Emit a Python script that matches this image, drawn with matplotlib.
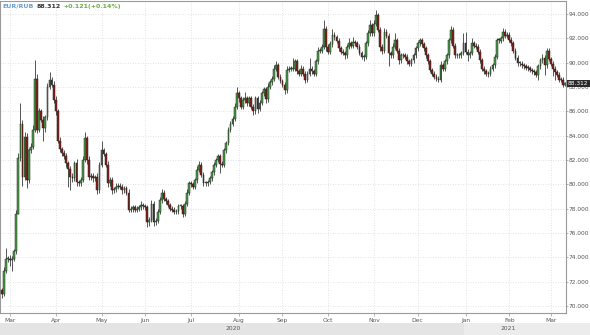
# EUR/RUB daily candles, Feb 2020 - Mar 2021
import numpy as np
import pandas as pd
import matplotlib
matplotlib.use('Agg')
from matplotlib import pyplot as plt
from matplotlib.patches import Rectangle

# daily closes, one trading day each, starting 2020-02-25
close = [
    71.0, 72.9, 73.9, 73.9, 73.8, 73.9, 74.5, 77.6, 82.2, 85.0,
    80.6, 83.9, 80.4, 82.8, 83.1, 84.5, 88.7, 84.5, 86.0, 85.3,
    84.6, 85.5, 88.0, 88.6, 88.2, 86.9, 86.0, 83.6, 82.9, 82.6,
    82.3, 81.75, 81.3, 80.6, 80.5, 81.75, 80.2, 80.1, 80.4, 82.0,
    83.8, 82.0, 80.6, 80.7, 80.5, 80.6, 79.5, 81.6, 82.8, 82.5,
    81.6, 80.1, 80.4, 79.5, 79.6, 79.8, 79.9, 79.8, 79.5, 79.7,
    79.3, 77.9, 78.0, 78.1, 77.9, 78.0, 78.1, 78.3, 78.2, 78.1,
    76.9, 77.1, 78.4, 76.9, 77.0, 77.75, 78.7, 79.3, 78.8, 78.6,
    78.3, 78.0, 77.9, 77.75, 77.8, 78.2, 78.2, 77.6, 78.4, 79.3,
    80.1, 80.0, 79.8, 80.35, 81.2, 81.6, 80.8, 80.1, 80.1, 80.2,
    80.5, 81.0, 81.6, 82.0, 82.3, 81.7, 81.6, 82.8, 83.4, 84.5,
    85.0, 85.4, 86.4, 87.5, 87.1, 86.4, 86.9, 87.1, 86.65, 87.1,
    86.4, 86.0, 87.1, 86.2, 86.7, 87.5, 87.8, 87.0, 88.0, 88.4,
    88.7, 89.5, 89.8, 88.85, 88.5, 88.2, 87.75, 89.4, 89.5, 89.5,
    89.5, 90.1, 89.3, 89.1, 89.5, 89.1, 88.6, 89.1, 89.5, 89.3,
    89.1, 90.1, 91.0, 91.0, 91.3, 92.8, 91.3, 90.9, 91.5, 92.3,
    92.1, 91.8, 91.2, 90.9, 90.8, 90.6, 91.3, 91.6, 91.4, 91.7,
    91.6, 91.3, 90.8, 90.5, 90.5, 91.6, 92.4, 93.1, 92.4, 93.2,
    93.9, 92.7, 91.3, 91.0, 92.55, 92.2, 90.8, 90.6, 91.3, 91.85,
    91.0, 90.2, 90.6, 90.6, 90.5, 90.1, 89.9, 90.2, 90.6, 91.2,
    91.6, 91.85, 91.5, 91.2, 90.6, 90.1, 89.4, 89.1, 88.85, 88.7,
    88.6, 89.8, 89.5, 90.1, 90.6, 91.85, 92.7, 91.4, 90.6, 90.6,
    90.6, 90.8, 91.6, 90.9, 90.6, 90.8, 91.6, 91.4, 91.3, 90.9,
    90.2, 89.5, 89.3, 89.1, 89.1, 89.5, 89.8, 90.5, 91.85, 91.8,
    92.0, 92.55, 92.2, 92.3, 91.9, 91.6, 91.0, 90.4, 89.95, 89.9,
    89.8, 89.7, 89.6, 89.55, 89.4, 89.3, 89.2, 89.0, 89.7, 90.2,
    90.4, 89.8, 91.0, 90.3, 89.9, 89.5, 89.2, 89.0, 88.6, 88.6,
    88.191, 88.312,
]
first_open = 71.3

# wick lengths above / below the body, in tenths of a rouble
wick_up = [
    2, 3, 9, 2, 3, 2, 2, 3, 4, 17,
    3, 4, 3, 2, 3, 4, 15, 4, 3, 2,
    3, 2, 3, 6, 2, 3, 4, 2, 3, 2,
    2, 3, 2, 2, 3, 2, 3, 2, 2, 3,
    5, 2, 3, 2, 2, 2, 3, 2, 8, 2,
    2, 3, 2, 2, 2, 3, 2, 2, 2, 2,
    2, 3, 2, 2, 2, 2, 2, 3, 2, 2,
    2, 2, 3, 2, 2, 2, 3, 3, 2, 2,
    2, 2, 2, 2, 2, 2, 2, 2, 2, 3,
    2, 2, 2, 2, 3, 3, 2, 2, 2, 2,
    2, 2, 2, 2, 2, 2, 2, 2, 2, 2,
    2, 2, 3, 5, 2, 2, 3, 5, 2, 2,
    2, 2, 2, 2, 2, 2, 2, 2, 3, 2,
    2, 3, 3, 2, 2, 2, 2, 3, 2, 2,
    9, 2, 2, 2, 3, 2, 2, 2, 9, 2,
    2, 2, 3, 2, 2, 7, 2, 2, 3, 5,
    2, 2, 2, 2, 2, 2, 2, 4, 2, 4,
    2, 2, 2, 2, 2, 2, 3, 4, 2, 3,
    4, 2, 2, 2, 3, 2, 2, 2, 3, 6,
    2, 2, 2, 2, 2, 2, 2, 2, 2, 2,
    2, 2, 2, 2, 2, 2, 2, 2, 2, 2,
    2, 3, 2, 2, 2, 2, 3, 2, 2, 2,
    2, 2, 8, 9, 2, 2, 4, 2, 2, 2,
    2, 2, 2, 2, 2, 2, 2, 2, 2, 2,
    2, 3, 2, 2, 2, 2, 2, 2, 2, 2,
    2, 2, 2, 2, 2, 2, 2, 2, 2, 2,
    3, 2, 2, 2, 2, 2, 2, 2, 2, 2,
    2, 1,
]
wick_dn = [
    3, 2, 2, 3, 5, 9, 2, 2, 0, 3,
    7, 2, 7, 3, 2, 2, 2, 3, 2, 2,
    10, 3, 2, 2, 2, 2, 3, 2, 2, 3,
    2, 3, 15, 11, 3, 2, 3, 2, 2, 2,
    2, 3, 2, 2, 3, 2, 3, 2, 2, 2,
    2, 3, 2, 3, 2, 2, 2, 2, 3, 2,
    2, 2, 2, 3, 2, 2, 2, 2, 2, 2,
    4, 3, 2, 3, 2, 2, 2, 2, 2, 2,
    2, 2, 2, 2, 2, 2, 2, 3, 2, 2,
    2, 2, 2, 2, 2, 2, 2, 2, 2, 2,
    2, 2, 2, 2, 2, 8, 2, 2, 2, 2,
    2, 2, 2, 2, 3, 2, 2, 2, 2, 2,
    2, 3, 2, 3, 2, 2, 2, 3, 2, 2,
    2, 2, 2, 2, 2, 2, 3, 2, 2, 2,
    2, 2, 2, 2, 2, 2, 3, 2, 2, 2,
    2, 2, 2, 2, 2, 2, 3, 2, 2, 2,
    2, 2, 2, 2, 2, 3, 2, 2, 2, 2,
    2, 2, 2, 2, 4, 2, 2, 2, 2, 2,
    2, 2, 3, 3, 2, 2, 11, 2, 2, 2,
    2, 3, 2, 2, 2, 2, 2, 2, 2, 2,
    2, 2, 2, 2, 2, 2, 2, 2, 2, 2,
    2, 2, 2, 2, 2, 2, 2, 2, 2, 2,
    2, 2, 2, 2, 5, 2, 2, 2, 2, 2,
    2, 2, 2, 2, 3, 2, 2, 2, 2, 2,
    2, 2, 2, 2, 2, 2, 2, 2, 2, 2,
    2, 2, 2, 2, 2, 2, 2, 2, 4, 2,
    2, 8, 2, 2, 2, 6, 6, 2, 2, 2,
    2, 1,
]

month_labels = ['Mar', 'Apr', 'May', 'Jun', 'Jul', 'Aug', 'Sep',
                'Oct', 'Nov', 'Dec', 'Jan', 'Feb', 'Mar']
year_labels = ['2020', '2021']
y_ticks = [70, 72, 74, 76, 78, 80, 82, 84, 86, 88, 90, 92, 94]
symbol = 'EUR/RUB'
last_txt = '88.312'
change_txt = '+0.121(+0.14%)'

UP = '#4a9e4a'
DOWN = '#8a1d1d'
EDGE = '#1f261f'
WICK = '#3a3a3a'
GRID = '#d9d9d9'

dates = pd.bdate_range('2020-02-25', periods=len(close))
idx = np.arange(len(close))
c = np.array(close)
o = np.r_[first_open, c[:-1]]
high = np.maximum(o, c) + np.array(wick_up) / 10
low = np.minimum(o, c) - np.array(wick_dn) / 10

fig = plt.figure(figsize=(5.9, 3.35), dpi=100)
ax = fig.add_axes([0.0, 22 / 335, 566 / 590, 312 / 335])

# wicks then bodies
ax.vlines(idx, low, high, color=WICK, lw=0.6, zorder=2)
body = c - o
body = np.where(np.abs(body) < 0.07, 0.07, body)
colors = np.where(c >= o, UP, DOWN)
ax.bar(idx, body, bottom=o, width=0.85, color=colors, edgecolor=EDGE,
       linewidth=0.35, zorder=3)

ax.set_xlim(-0.8, 271.3)
ax.set_ylim(69.43, 95.07)

# month ticks at first trading day of each month
per = dates.to_period('M')
new_month = np.r_[True, per[1:] != per[:-1]]
m_idx = idx[new_month][1:]
ax.set_xticks(m_idx)
ax.set_xticklabels(month_labels)
ax.set_yticks(y_ticks)
ax.set_yticklabels(['%.3f' % v for v in y_ticks])
ax.yaxis.tick_right()
ax.tick_params(axis='y', labelsize=4.2, labelcolor='#555555', length=1.5,
               width=0.5, color='#999999', pad=0.6)
ax.tick_params(axis='x', labelsize=4.3, labelcolor='#555555', length=2,
               width=0.5, color='#999999', pad=1.5)
ax.grid(True, color=GRID, lw=0.6, ls=(0, (1, 2)))
ax.set_axisbelow(True)
for s in ax.spines.values():
    s.set_color('#9a9a9a')
    s.set_linewidth(0.8)

# year band under the month labels
jan_idx = idx[dates.year == 2021][0]
to_fig = lambda xd: fig.transFigure.inverted().transform(
    ax.transData.transform((xd, 80)))[0]
x_jan = to_fig(jan_idx - 0.5)
band_h = 12 / 335
fig.patches.append(Rectangle((0, 0), x_jan, band_h, transform=fig.transFigure,
                             facecolor='#e4e4e4', edgecolor='none', zorder=0))
fig.patches.append(Rectangle((x_jan, 0), 1 - x_jan, band_h,
                             transform=fig.transFigure,
                             facecolor='#ececec', edgecolor='none', zorder=0))
fig.text(to_fig((-0.8 + jan_idx) / 2), band_h / 2, year_labels[0],
         ha='center', va='center', fontsize=4.3, color='#555555')
fig.text(to_fig((jan_idx + m_idx[-1]) / 2), band_h / 2, year_labels[1],
         ha='center', va='center', fontsize=4.3, color='#555555')

# header text
t1 = ax.text(0.004, 0.983, symbol, transform=ax.transAxes, fontsize=4.5,
             color='#6b9bd2', fontweight='bold', va='center', ha='left')
t2 = ax.annotate(last_txt, xy=(1, 0), xycoords=t1, xytext=(2, 0),
                 textcoords='offset points', fontsize=4.5, color='#333333',
                 fontweight='bold', va='bottom', ha='left')
ax.annotate(change_txt, xy=(1, 0), xycoords=t2, xytext=(2, 0),
            textcoords='offset points', fontsize=4.5, color='#6aae45',
            fontweight='bold', va='bottom', ha='left')

# last price marker on the right axis
ax.annotate(last_txt, xy=(1.0, c[-1]), xycoords=('axes fraction', 'data'),
            xytext=(1.5, 0), textcoords='offset points', fontsize=4.2,
            color='white', va='center', ha='left', annotation_clip=False,
            bbox=dict(boxstyle='square,pad=0.2', fc='#2b2b2b', ec='none'))

fig.savefig('out.png', dpi=100)
